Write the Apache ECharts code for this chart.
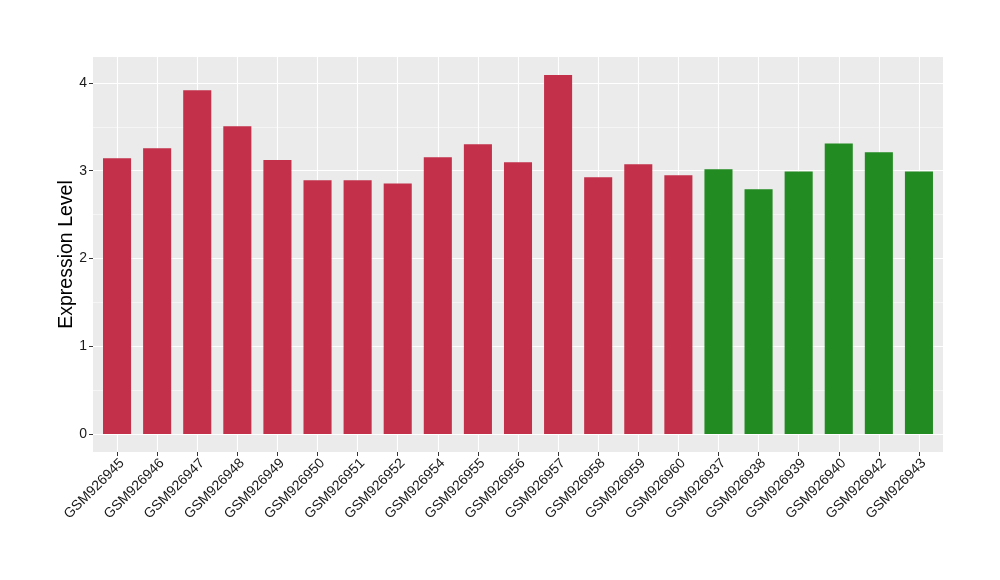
<!DOCTYPE html>
<html>
<head>
<meta charset="utf-8">
<script src="https://cdn.jsdelivr.net/npm/echarts@6/dist/echarts.min.js"></script>
<style>
  html, body { margin: 0; padding: 0; background: #ffffff; }
  #chart { width: 1000px; height: 580px; }
</style>
</head>
<body>
<div id="chart"></div>
<script>
// ---- data ----
const categories = ['GSM926945','GSM926946','GSM926947','GSM926948','GSM926949','GSM926950','GSM926951',
  'GSM926952','GSM926954','GSM926955','GSM926956','GSM926957','GSM926958','GSM926959','GSM926960',
  'GSM926937','GSM926938','GSM926939','GSM926940','GSM926942','GSM926943'];
const values = [3.14, 3.255, 3.915, 3.505, 3.12, 2.89, 2.89,
  2.855, 3.153, 3.30, 3.095, 4.09, 2.924, 3.074, 2.947,
  3.015, 2.787, 2.99, 3.31, 3.21, 2.99];
const groups = ['A','A','A','A','A','A','A','A','A','A','A','A','A','A','A',
  'B','B','B','B','B','B'];
const yTicks = [0, 1, 2, 3, 4];
const yMinorTicks = [0.5, 1.5, 2.5, 3.5];

// ---- styling ----
const groupColors = { A: '#C2304A', B: '#228B22' };
const font = '"Liberation Sans", Arial, Helvetica, sans-serif';

const maxV = Math.max(...values);
const pad = maxV * 0.05;
const idx = categories.map((_, i) => i);

const chart = echarts.init(document.getElementById('chart'), null, { renderer: 'canvas' });
chart.setOption({
  animation: false,
  backgroundColor: '#ffffff',
  grid: {
    left: 93, right: 57, top: 57, bottom: 128,
    show: true, backgroundColor: '#EBEBEB', borderWidth: 0
  },
  xAxis: {
    type: 'value',
    position: 'bottom',
    min: -0.6, max: categories.length - 1 + 0.6,
    axisLine: { show: false, onZero: false },
    axisTick: { show: true, customValues: idx, length: 4, lineStyle: { color: '#333333', width: 1 } },
    axisLabel: {
      customValues: idx,
      formatter: (v) => categories[Math.round(v)],
      rotate: 45, margin: 4, verticalAlign: 'top', align: 'right',
      hideOverlap: false,
      fontFamily: font, fontSize: 14, color: '#1a1a1a'
    },
    splitLine: { show: true, lineStyle: { color: '#ffffff', width: 1.1 } }
  },
  yAxis: [{
    type: 'value',
    position: 'left',
    min: -pad, max: maxV + pad,
    name: 'Expression Level',
    nameLocation: 'middle', nameRotate: 90, nameGap: 16, nameMoveOverlap: false,
    nameTextStyle: { fontFamily: font, fontSize: 19.5, color: '#000000' },
    axisLine: { show: false, onZero: false },
    axisTick: { show: true, customValues: yTicks, length: 4, lineStyle: { color: '#333333', width: 1 } },
    axisLabel: { customValues: yTicks, margin: 6, fontFamily: font, fontSize: 14, color: '#1a1a1a' },
    splitLine: { show: true, lineStyle: { color: '#ffffff', width: 1.1 } }
  }, {
    type: 'value',
    position: 'left',
    min: -pad, max: maxV + pad,
    axisLine: { show: false, onZero: false },
    axisTick: { show: false, customValues: yMinorTicks },
    axisLabel: { show: false, customValues: yMinorTicks },
    splitLine: { show: true, lineStyle: { color: '#ffffff', width: 0.5 } }
  }],
  series: [{
    type: 'bar',
    barWidth: '70%',
    data: values.map((v, i) => ({
      value: [i, v],
      itemStyle: { color: groupColors[groups[i]] }
    }))
  }]
});
</script>
</body>
</html>
